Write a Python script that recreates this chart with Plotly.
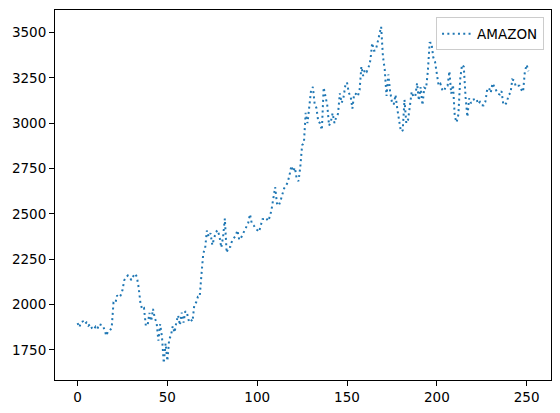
import plotly.graph_objects as go

# AMAZON daily close (index 0..251)
jan = [1898.01, 1874.97, 1902.88, 1906.86, 1891.97, 1901.05, 1883.16, 1891.30, 1869.44, 1862.02,
       1877.94, 1864.72, 1892.00, 1887.46, 1884.58, 1861.64, 1828.34, 1853.25, 1858.00, 1870.68, 2008.72]
feb = [2004.20, 2049.67, 2039.87, 2050.23, 2079.28, 2133.91, 2150.80, 2160.00, 2149.87, 2134.87,
       2155.67, 2170.22, 2153.10, 2095.97, 2009.29, 1972.74, 1979.59, 1884.30, 1883.75]
mar = [1953.95, 1908.99, 1975.83, 1924.03, 1901.09, 1800.61, 1891.82, 1820.86, 1676.61, 1785.00,
       1689.15, 1807.84, 1830.00, 1880.93, 1846.09, 1902.83, 1940.10, 1885.84, 1955.49, 1900.10,
       1963.95, 1949.72]
apr = [1907.70, 1918.83, 1906.59, 1997.59, 2011.60, 2043.00, 2042.76, 2168.87, 2283.32, 2307.68,
       2408.19, 2375.00, 2393.61, 2328.12, 2363.49, 2399.45, 2410.22, 2376.00, 2314.08, 2372.71, 2474.00]
may = [2286.04, 2315.99, 2317.80, 2351.26, 2367.61, 2379.61, 2409.00, 2356.95, 2367.92, 2388.85,
       2409.78, 2426.26, 2449.33, 2497.94, 2446.74, 2436.88, 2421.86, 2410.39, 2401.10, 2442.37]
jun = [2471.04, 2472.41, 2478.40, 2460.60, 2483.00, 2524.06, 2600.86, 2647.45, 2557.96, 2545.02,
       2572.68, 2615.27, 2640.98, 2653.98, 2675.01, 2713.82, 2764.41, 2734.40, 2754.58, 2692.87,
       2680.38, 2758.82]
jul = [2878.70, 2890.30, 3057.04, 3000.12, 3081.11, 3182.63, 3200.00, 3104.00, 3084.00, 3008.87,
       2999.90, 2961.97, 3196.84, 3138.29, 3099.91, 2986.55, 3008.91, 3055.21, 3000.33, 3033.53,
       3051.88, 3164.68]
aug = [3111.89, 3138.83, 3205.03, 3225.00, 3167.46, 3148.16, 3080.67, 3162.24, 3161.02, 3148.02,
       3182.41, 3312.49, 3260.48, 3297.37, 3284.72, 3307.46, 3346.49, 3441.85, 3400.00, 3401.80, 3450.96]
sep = [3499.12, 3531.45, 3368.00, 3294.62, 3149.84, 3268.61, 3175.11, 3116.22, 3102.97, 3156.13,
       3078.10, 3008.73, 2954.91, 2960.47, 3128.99, 2999.86, 3019.79, 3095.13, 3174.05, 3144.88, 3148.73]
oct_ = [3221.26, 3125.00, 3199.20, 3099.96, 3195.69, 3190.55, 3286.65, 3442.93, 3443.63, 3363.71,
        3338.65, 3272.71, 3207.21, 3217.01, 3184.94, 3176.40, 3204.40, 3207.04, 3286.33, 3162.78,
        3211.01, 3036.15]
nov = [3004.48, 3048.41, 3241.16, 3322.00, 3311.37, 3143.74, 3035.02, 3137.39, 3110.28, 3128.81,
       3131.06, 3135.66, 3105.46, 3117.02, 3099.40, 3098.39, 3118.06, 3185.07, 3195.34, 3168.04]
dec = [3220.08, 3203.53, 3186.73, 3162.58, 3158.00, 3177.29, 3104.20, 3101.49, 3116.42, 3156.97,
       3165.12, 3240.96, 3236.08, 3201.65, 3206.18, 3206.52, 3185.27, 3172.69, 3283.96, 3322.00, 3285.85]

amazon = jan + feb + mar + apr + may + jun + jul + aug + sep + oct_ + nov + dec
x_index = list(range(len(amazon)))

x_ticks = [0, 50, 100, 150, 200, 250]
y_ticks = [1750, 2000, 2250, 2500, 2750, 3000, 3250, 3500]

n = len(amazon) - 1
xpad = 0.05 * n
ymin, ymax = min(amazon), max(amazon)
ypad = 0.05 * (ymax - ymin)

fig = go.Figure()
fig.add_trace(go.Scatter(
    x=x_index, y=amazon, mode="lines", name="AMAZON",
    line=dict(color="#1f77b4", width=2, dash="2px,3.3px"),
))

axis_common = dict(
    showgrid=False, zeroline=False, showline=True, linecolor="black", linewidth=1,
    mirror=True, ticks="outside", ticklen=5, tickwidth=1, tickcolor="black",
    automargin=False,
    tickfont=dict(family="DejaVu Sans", size=13.5, color="black"),
)
fig.update_xaxes(range=[-xpad, n + xpad], tickvals=x_ticks, **axis_common)
fig.update_yaxes(range=[ymin - ypad, ymax + ypad], tickvals=y_ticks, **axis_common)

# the page body has an 8px margin, so the figure is sized/offset to compensate
fig.update_layout(
    width=544, height=397,
    margin=dict(l=47, r=1, t=2, b=25, autoexpand=False),
    plot_bgcolor="white", paper_bgcolor="white",
    showlegend=True,
    legend=dict(x=0.986, y=0.98, xanchor="right", yanchor="top",
                bgcolor="rgba(255,255,255,0.8)", bordercolor="#cccccc", borderwidth=1,
                font=dict(family="DejaVu Sans", size=13.5, color="black")),
    font=dict(family="DejaVu Sans"),
)

fig.write_html("out.html")
